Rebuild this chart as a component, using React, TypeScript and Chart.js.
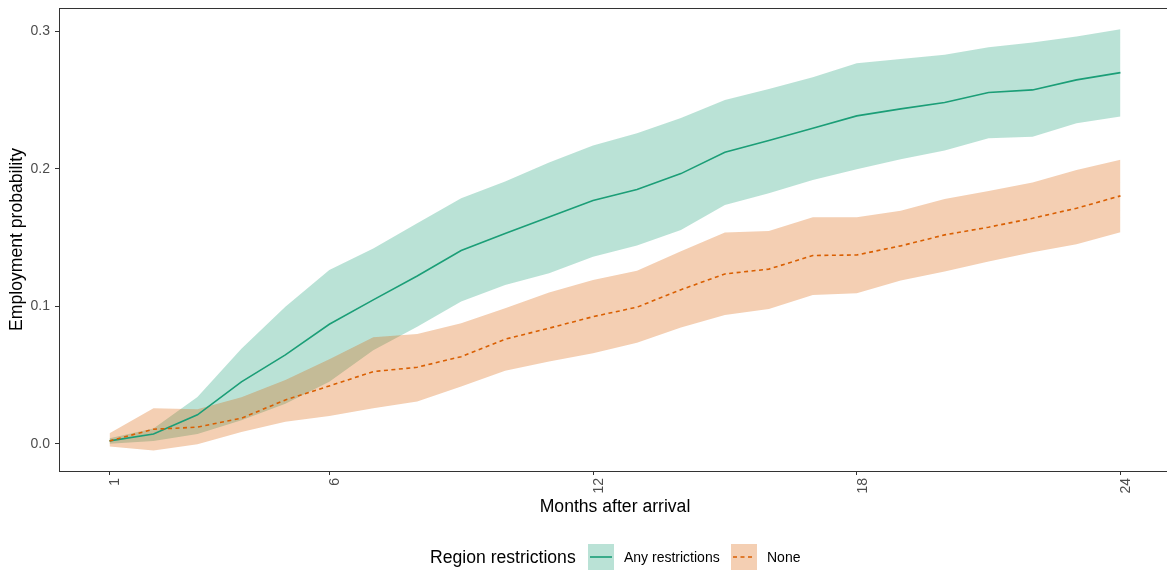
import React, { useEffect, useRef } from "react";
import { Chart, registerables } from "chart.js";

Chart.register(...registerables);

const months = [1, 2, 3, 4, 5, 6, 7, 8, 9, 10, 11, 12, 13, 14, 15, 16, 17, 18, 19, 20, 21, 22, 23, 24];

const anyMean = [0.002, 0.007, 0.021, 0.045, 0.0646, 0.0869, 0.1046, 0.122, 0.1405, 0.153, 0.165, 0.1769, 0.185, 0.1965, 0.212, 0.2206, 0.2295, 0.2385, 0.2436, 0.2482, 0.2555, 0.2574, 0.2647, 0.27];
const anyUpper = [0.004, 0.011, 0.034, 0.069, 0.0997, 0.1264, 0.142, 0.1604, 0.1786, 0.1907, 0.2045, 0.2169, 0.2259, 0.237, 0.25, 0.258, 0.2667, 0.2768, 0.2798, 0.2829, 0.2885, 0.2919, 0.2962, 0.3016];
const anyLower = [0.0, 0.002, 0.007, 0.017, 0.029, 0.045, 0.068, 0.085, 0.1034, 0.1155, 0.124, 0.136, 0.1441, 0.1555, 0.1737, 0.1822, 0.1919, 0.1997, 0.207, 0.2133, 0.2223, 0.2234, 0.2332, 0.238];

const noneMean = [0.002, 0.0105, 0.012, 0.0185, 0.0318, 0.042, 0.0524, 0.0556, 0.0633, 0.076, 0.084, 0.0924, 0.0993, 0.112, 0.1235, 0.127, 0.1369, 0.1373, 0.1439, 0.1519, 0.1575, 0.164, 0.1713, 0.1803];
const noneUpper = [0.0076, 0.0258, 0.025, 0.0338, 0.0464, 0.0614, 0.0774, 0.0798, 0.0876, 0.0985, 0.1099, 0.1191, 0.1259, 0.14, 0.1536, 0.1548, 0.1648, 0.1648, 0.1694, 0.1781, 0.1839, 0.19, 0.1992, 0.2065];
const noneLower = [-0.002, -0.005, -0.0005, 0.0085, 0.016, 0.0202, 0.0258, 0.0306, 0.0415, 0.0531, 0.0597, 0.0658, 0.0735, 0.0845, 0.0937, 0.098, 0.1082, 0.1095, 0.1187, 0.1252, 0.1325, 0.1393, 0.1451, 0.1539];

const xTicks = [1, 6, 12, 18, 24];
const yTicks = [0, 0.1, 0.2, 0.3];

const GREEN = "#1B9E77";
const ORANGE = "#D95F02";
const GREEN_FILL = "rgba(27,158,119,0.3)";
const ORANGE_FILL = "rgba(217,95,2,0.3)";
const FONT = "'Liberation Sans', Arial, Helvetica, sans-serif";

const pts = (vals: number[]) => months.map((m, i) => ({ x: m, y: vals[i] }));

const borderPlugin = {
  id: "panelBorder",
  afterDraw(chart: any) {
    const { ctx, chartArea } = chart;
    ctx.save();
    ctx.strokeStyle = "#333333";
    ctx.lineWidth = 1;
    const l = Math.round(chartArea.left) + 0.5;
    const t = Math.round(chartArea.top) + 0.5;
    const r = Math.round(chartArea.right) + 0.5;
    const b = Math.round(chartArea.bottom) + 0.5;
    ctx.strokeRect(l, t, r - l, b - t);
    ctx.restore();
  },
};

export default function App() {
  const ref = useRef<HTMLCanvasElement | null>(null);

  useEffect(() => {
    if (!ref.current) return;
    document.body.style.margin = "0";
    Chart.defaults.font.family = FONT;
    const band = (data: number[], color: string, fill: any) => ({
      data: pts(data),
      borderWidth: 0,
      pointRadius: 0,
      backgroundColor: color,
      borderColor: "rgba(0,0,0,0)",
      fill,
      tension: 0,
    });
    const chart = new Chart(ref.current, {
      type: "line",
      data: {
        datasets: [
          {
            label: "None",
            data: pts(noneMean),
            borderColor: ORANGE,
            borderWidth: 1.6,
            borderDash: [4, 3.5],
            pointRadius: 0,
            fill: false,
            tension: 0,
          },
          {
            label: "Any restrictions",
            data: pts(anyMean),
            borderColor: GREEN,
            borderWidth: 1.6,
            pointRadius: 0,
            fill: false,
            tension: 0,
          },
          band(noneUpper, ORANGE_FILL, "+1"),
          band(noneLower, ORANGE_FILL, false),
          band(anyUpper, GREEN_FILL, "+1"),
          band(anyLower, GREEN_FILL, false),
        ] as any,
      },
      options: {
        responsive: false,
        animation: false,
        devicePixelRatio: 1,
        layout: { padding: { left: 0, top: 8, right: 4, bottom: 0 } },
        plugins: {
          legend: { display: false },
          tooltip: { enabled: false },
        },
        scales: {
          x: {
            type: "linear",
            min: -0.15,
            max: 25.15,
            afterFit: (s: any) => {
              s.height = 100;
              s.paddingLeft = 0;
              s.paddingRight = 0;
            },
            afterBuildTicks: (s: any) => {
              s.ticks = xTicks.map((v) => ({ value: v }));
            },
            border: { display: false },
            grid: { drawOnChartArea: false, drawTicks: true, tickLength: 4, color: "#333333", lineWidth: 1 },
            ticks: {
              autoSkip: false,
              minRotation: 90,
              maxRotation: 90,
              padding: 3,
              labelOffset: 6,
              color: "#4D4D4D",
              font: { size: 14, family: FONT },
              callback: (v: any) => String(v),
            },
            title: {
              display: true,
              text: "Months after arrival",
              color: "#000000",
              font: { size: 17.6, family: FONT },
              padding: { top: 0, bottom: 53 },
            },
          },
          y: {
            type: "linear",
            min: -0.0199,
            max: 0.317,
            afterFit: (s: any) => {
              s.width = 59;
              s.paddingTop = 0;
              s.paddingBottom = 0;
            },
            afterBuildTicks: (s: any) => {
              s.ticks = yTicks.map((v) => ({ value: v }));
            },
            border: { display: false },
            grid: { drawOnChartArea: false, drawTicks: true, tickLength: 4, color: "#333333", lineWidth: 1 },
            ticks: {
              padding: 5,
              color: "#4D4D4D",
              font: { size: 14, family: FONT },
              callback: (v: any) => Number(v).toFixed(1),
            },
            title: {
              display: true,
              text: "Employment probability",
              color: "#000000",
              font: { size: 17.6, family: FONT },
              padding: { top: 6.5, bottom: 0 },
            },
          },
        },
      },
      plugins: [borderPlugin],
    });
    return () => chart.destroy();
  }, []);

  const textStyle: React.CSSProperties = {
    position: "absolute",
    top: 544,
    height: 26,
    lineHeight: "26px",
    fontFamily: FONT,
    color: "#000",
    whiteSpace: "nowrap",
  };

  return (
    <div style={{ position: "fixed", left: 0, top: 0, width: 1167, height: 571, overflow: "hidden", background: "#fff" }}>
      <canvas ref={ref} width={1175} height={571} style={{ position: "absolute", left: 0, top: 0, width: 1175, height: 571 }} />
      <div style={{ ...textStyle, left: 430, fontSize: 17.6 }}>Region restrictions</div>
      <svg style={{ position: "absolute", left: 588, top: 544 }} width={26} height={26}>
        <rect x={0} y={0} width={26} height={26} fill={GREEN_FILL} />
        <line x1={2} y1={13} x2={24} y2={13} stroke={GREEN} strokeWidth={1.6} />
      </svg>
      <div style={{ ...textStyle, left: 624, fontSize: 14 }}>Any restrictions</div>
      <svg style={{ position: "absolute", left: 731, top: 544 }} width={26} height={26}>
        <rect x={0} y={0} width={26} height={26} fill={ORANGE_FILL} />
        <line x1={2} y1={13} x2={24} y2={13} stroke={ORANGE} strokeWidth={1.6} strokeDasharray="4 3.5" />
      </svg>
      <div style={{ ...textStyle, left: 767, fontSize: 14 }}>None</div>
    </div>
  );
}
